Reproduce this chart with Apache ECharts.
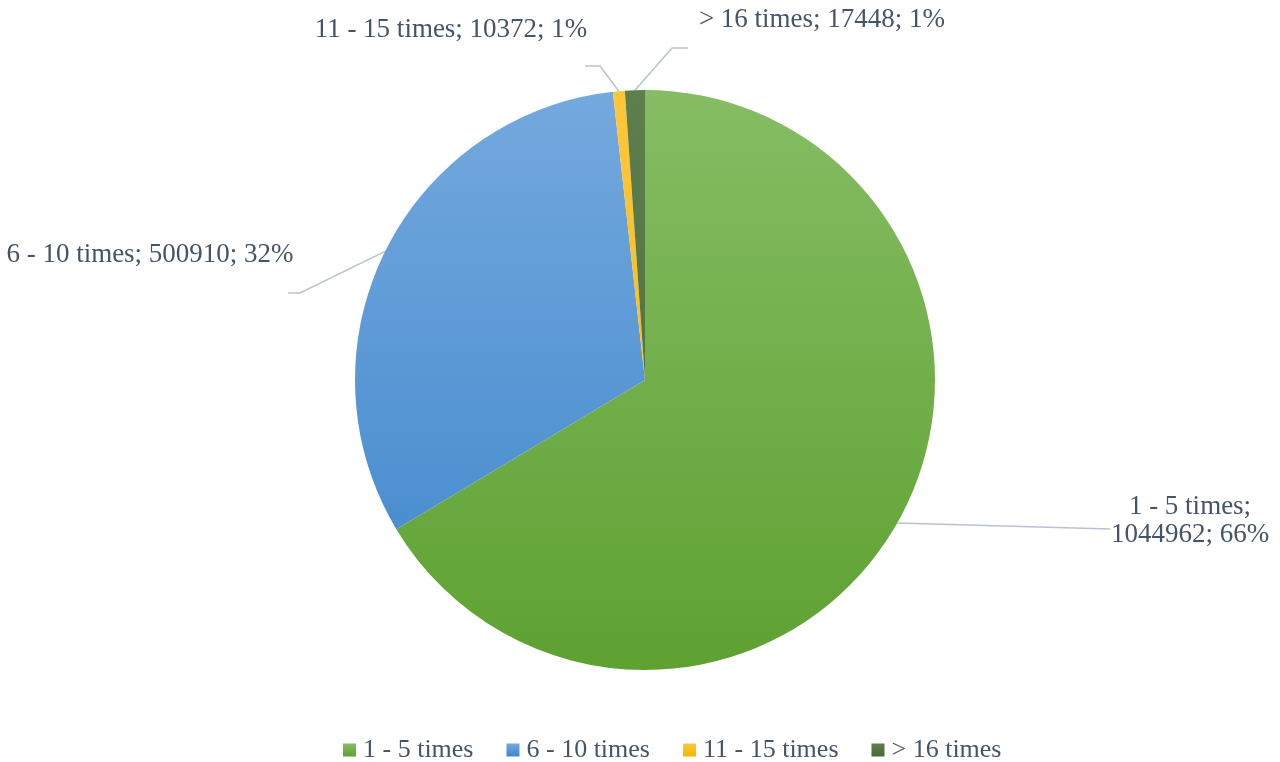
<!DOCTYPE html>
<html>
<head>
<meta charset="utf-8">
<script src="https://cdn.jsdelivr.net/npm/echarts@6/dist/echarts.min.js"></script>
<style>
  html, body { margin: 0; padding: 0; background: #fff; }
  #chart { width: 1280px; height: 762px; }
</style>
</head>
<body>
<div id="chart"></div>
<script>
// data
const categories = ['1 - 5 times', '6 - 10 times', '11 - 15 times', '> 16 times'];
const values = [1044962, 500910, 10372, 17448];
const percentLabels = ['66%', '32%', '1%', '1%'];

// gradient colours per slice (top, bottom)
const sliceColors = [
  ['#86bd64', '#5ea131'],
  ['#74a9de', '#3e86cb'],
  ['#ffc63a', '#f4b700'],
  ['#5e7e4e', '#486a36']
];

const cx = 645, cy = 380, radius = 290;
const textColor = '#44546a';
const serif = '"Liberation Serif", "Times New Roman", serif';

// where each label sits and how its leader line bends
const labelPlace = [
  { x: 1190, y: 521, elbow: null, end: [1110, 529] },
  { x: 150, y: 255, elbow: [300, 293], end: [288, 293] },
  { x: 451, y: 30, elbow: [600, 66], end: [585, 66] },
  { x: 822, y: 20, elbow: [672, 48], end: [688, 48] }
];

const chart = echarts.init(document.getElementById('chart'));

const pieData = categories.map((name, i) => ({
  name: name,
  value: values[i],
  itemStyle: {
    color: new echarts.graphic.LinearGradient(0, cy - radius, 0, cy + radius, [
      { offset: 0, color: sliceColors[i][0] },
      { offset: 1, color: sliceColors[i][1] }
    ], true)
  }
}));

chart.setOption({
  backgroundColor: '#fff',
  animation: false,
  legend: {
    top: 732,
    left: 338,
    icon: 'rect',
    itemWidth: 13,
    itemHeight: 13,
    itemGap: 33,
    textStyle: { color: textColor, fontSize: 26, fontFamily: serif, padding: [0, 0, 0, 2] },
    data: categories.map((c, i) => ({
      name: c,
      itemStyle: {
        color: new echarts.graphic.LinearGradient(0, 0, 0, 1, [
          { offset: 0, color: sliceColors[i][0] },
          { offset: 1, color: sliceColors[i][1] }
        ])
      }
    }))
  },
  series: [{
    type: 'pie',
    center: [cx, cy],
    radius: radius,
    startAngle: 90,
    clockwise: true,
    avoidLabelOverlap: false,
    itemStyle: { borderWidth: 0 },
    label: {
      show: true,
      position: 'outside',
      color: textColor,
      fontSize: 27,
      fontFamily: serif,
      lineHeight: 28,
      formatter: p => {
        const txt = p.name + '; ' + values[p.dataIndex] + '; ' + percentLabels[p.dataIndex];
        return p.dataIndex === 0 ? p.name + ';\n' + values[0] + '; ' + percentLabels[0] : txt;
      }
    },
    labelLine: {
      show: true,
      length: 20,
      length2: 20,
      smooth: false,
      lineStyle: { color: '#b8c3d2', width: 1.5 }
    },
    labelLayout: params => {
      const lp = labelPlace[params.dataIndex];
      const anchor = params.labelLinePoints ? params.labelLinePoints[0] : [cx, cy];
      const pts = lp.elbow ? [anchor, lp.elbow, lp.end] : [anchor, lp.end, lp.end];
      return {
        x: lp.x,
        y: lp.y,
        align: 'center',
        verticalAlign: 'middle',
        labelLinePoints: pts
      };
    },
    data: pieData
  }]
});
</script>
</body>
</html>
